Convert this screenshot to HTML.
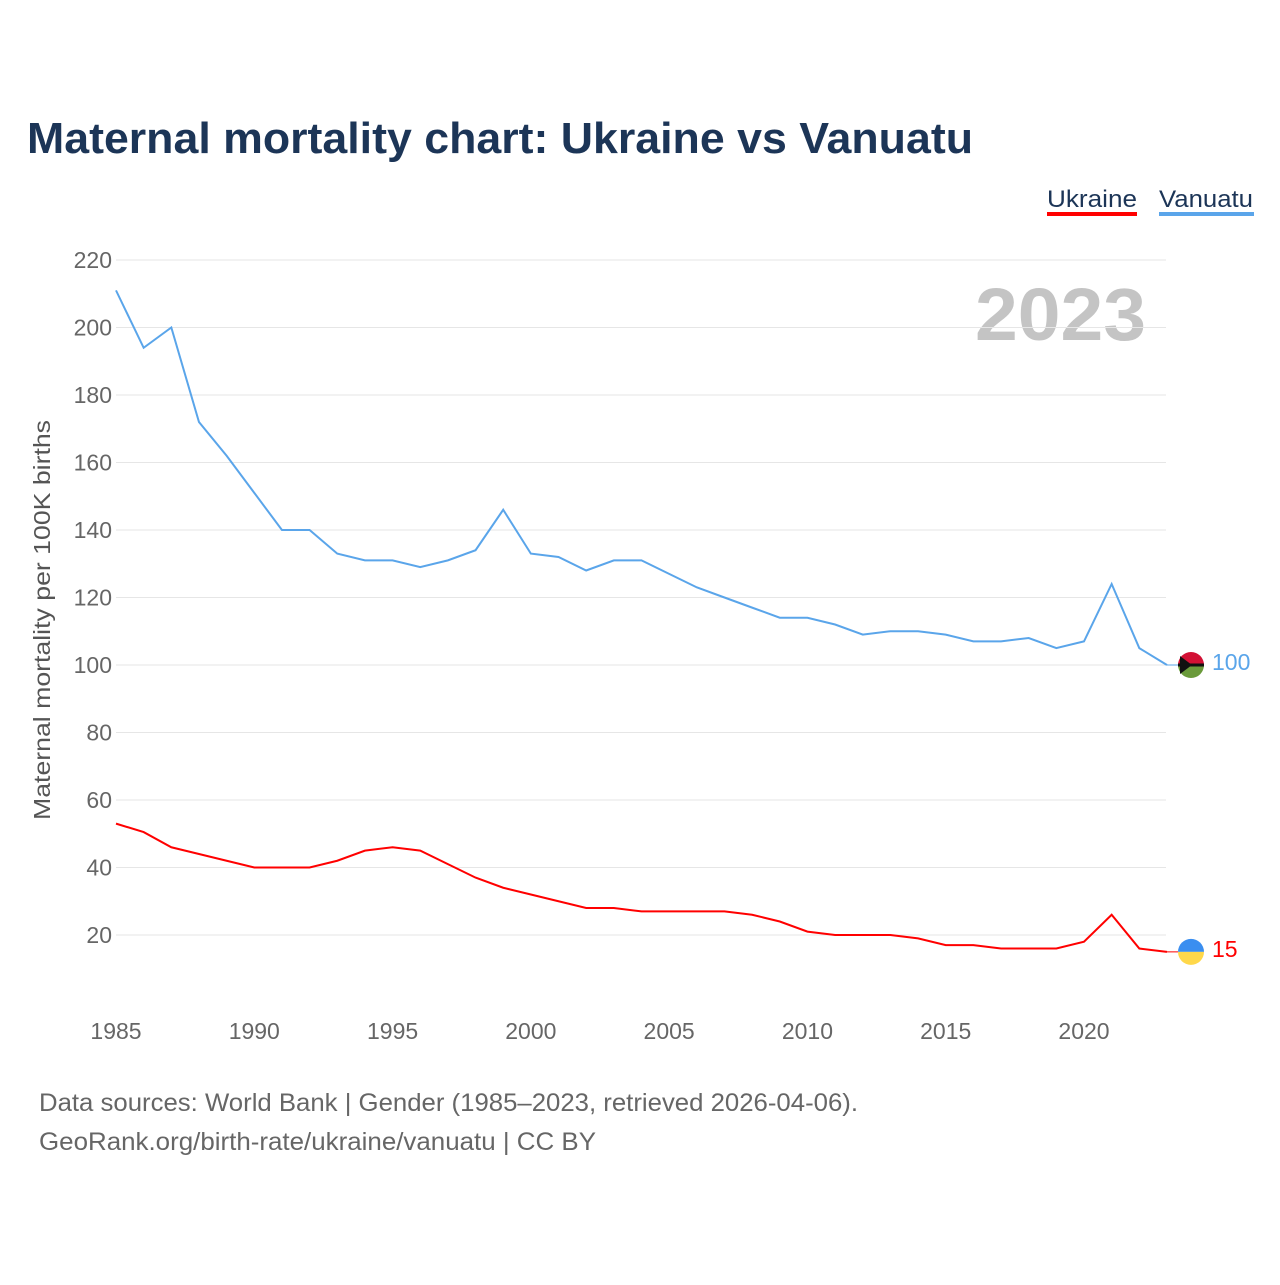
<!DOCTYPE html>
<html><head><meta charset="utf-8"><style>
body{margin:0;background:#fff;width:1280px;height:1280px;overflow:hidden;font-family:"Liberation Sans",sans-serif}
</style></head><body>
<svg id="chart" width="1280" height="1280" xmlns="http://www.w3.org/2000/svg">
<text x="27" y="153" font-size="44" font-weight="bold" fill="#1c3557" textLength="946" lengthAdjust="spacingAndGlyphs">Maternal mortality chart: Ukraine vs Vanuatu</text>
<g><text x="1047" y="207" font-size="24" fill="#1c3557" textLength="90" lengthAdjust="spacingAndGlyphs">Ukraine</text><rect x="1047" y="212" width="90" height="4" fill="#ff0000"/></g>
<g><text x="1159" y="207" font-size="24" fill="#1c3557" textLength="94" lengthAdjust="spacingAndGlyphs">Vanuatu</text><rect x="1159" y="212" width="95" height="4" fill="#5aa5ea"/></g>
<text x="975" y="340" font-size="74" font-weight="bold" fill="#c4c4c4" textLength="171" lengthAdjust="spacingAndGlyphs">2023</text>
<text transform="translate(50,620) rotate(-90)" font-size="23" fill="#555" text-anchor="middle" textLength="400" lengthAdjust="spacingAndGlyphs">Maternal mortality per 100K births</text>
<g id="grid"></g><g id="series"></g>
<text x="39" y="1111" font-size="25" fill="#666" textLength="819" lengthAdjust="spacingAndGlyphs">Data sources: World Bank | Gender (1985–2023, retrieved 2026-04-06).</text>
<text x="39" y="1150" font-size="25" fill="#666" textLength="557" lengthAdjust="spacingAndGlyphs">GeoRank.org/birth-rate/ukraine/vanuatu | CC BY</text>
</svg>
<script>
const years=[];for(let y=1985;y<=2023;y++)years.push(y);
const vanuatu=[211,194,200,172,162,151,140,140,133,131,131,129,131,134,146,133,132,128,131,131,127,123,120,117,114,114,112,109,110,110,109,107,107,108,105,107,124,105,100];
const ukraine=[53,50.5,46,44,42,40,40,40,42,45,46,45,41,37,34,32,30,28,28,27,27,27,27,26,24,21,20,20,20,19,17,17,16,16,16,18,26,16,15];
const yTicks=[20,40,60,80,100,120,140,160,180,200,220];
const xTicks=[1985,1990,1995,2000,2005,2010,2015,2020];
const NS="http://www.w3.org/2000/svg";
const xs=y=>116+(y-1985)*(968/35);
const ys=v=>1002.5-v*3.375;
const grid=document.getElementById('grid'),ser=document.getElementById('series');
function mk(tag,attrs,parent){const e=document.createElementNS(NS,tag);for(const k in attrs)e.setAttribute(k,attrs[k]);parent.appendChild(e);return e;}
yTicks.forEach(t=>{
 const l=mk('line',{x1:116,x2:1166,y1:ys(t),y2:ys(t),stroke:'#e6e6e6','stroke-width':1},grid);
 
 
 const tx=mk('text',{x:112,y:ys(t)+8,'font-size':23,fill:'#666','text-anchor':'end'},grid);tx.textContent=t;
 
 
});
xTicks.forEach(t=>{
 const tx=mk('text',{x:xs(t),y:1039,'font-size':23,fill:'#666','text-anchor':'middle'},grid);tx.textContent=t;
 
 
});
function line(vals,color,name){
 const p=mk('polyline',{points:vals.map((v,i)=>xs(years[i])+','+ys(v)).join(' '),fill:'none',stroke:color,'stroke-width':2},ser);
 
 
 const last=vals[vals.length-1],ly=ys(last);
 mk('line',{x1:xs(2023),x2:1178,y1:ly,y2:ly,stroke:color,'stroke-width':1},ser);
 const lbl=mk('text',{x:1212,y:ly+5,'font-size':23,fill:color},ser);lbl.textContent=last;
 
 
 return ly;
}
const vy=line(vanuatu,'#5aa5ea','vanuatu');
const uy=line(ukraine,'#ff0000','ukraine');
let g=mk('g',{},ser);


mk('path',{d:`M1178 ${vy} a13 13 0 0 1 26 0z`,fill:'#d21034'},g);
mk('path',{d:`M1178 ${vy} a13 13 0 0 0 26 0z`,fill:'#6a9a3a'},g);
mk('rect',{x:1178,y:vy-1.5,width:26,height:3,fill:'#111'},g);
mk('path',{d:`M1180 ${vy-9} L1192 ${vy} L1180 ${vy+9}z`,fill:'#111'},g);
g=mk('g',{},ser);


mk('path',{d:`M1178 ${uy} a13 13 0 0 1 26 0z`,fill:'#3a8ef0'},g);
mk('path',{d:`M1178 ${uy} a13 13 0 0 0 26 0z`,fill:'#ffd84a'},g);
</script>
</body></html>
